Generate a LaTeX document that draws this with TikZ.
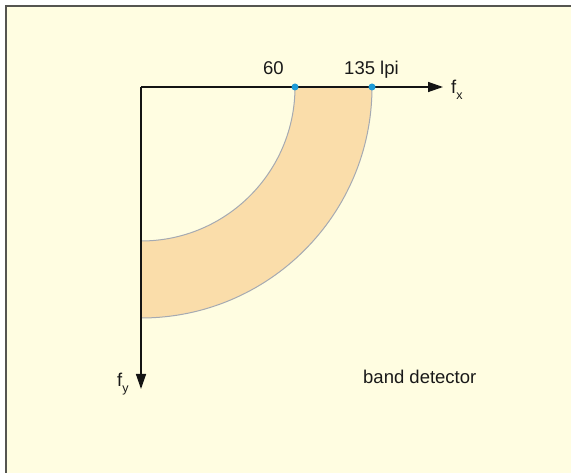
\documentclass[tikz,border=0pt]{standalone}
\usepackage{fontspec}
\setmainfont{Liberation Sans}
\usetikzlibrary{arrows.meta}
\definecolor{bgcream}{RGB}{255,253,225}
\definecolor{bandfill}{RGB}{250,221,170}
\definecolor{arcgray}{RGB}{165,170,178}
\definecolor{dotblue}{RGB}{30,155,215}
\definecolor{framegray}{RGB}{85,85,80}
\definecolor{axisblack}{RGB}{20,20,20}
\newcommand{\subtxt}[1]{\raisebox{-0.28em}{\fontsize{12.5}{13}\selectfont #1}}
\tikzset{
  axisline/.style={draw=axisblack, line width=1.4pt, -{Triangle[length=15pt,width=10pt]}},
  arcline/.style={draw=arcgray, line width=1pt},
  dotnode/.style={circle, fill=dotblue, inner sep=0pt, minimum size=7pt},
  lbl/.style={font=\fontsize{18.5}{22}\selectfont, inner sep=0pt, text=black!90}
}
\begin{document}
\begin{tikzpicture}[x=1pt,y=-1pt]
\useasboundingbox (0,0) rectangle (571,473);
\fill[white] (0,0) rectangle (571,473);
\fill[bgcream] (5,5) rectangle (571,473);
\draw[framegray, line width=1.6pt] (5.8,473) -- (5.8,5.8) -- (571,5.8);
% band
\fill[bandfill] (295,87) arc[start angle=0, end angle=90, radius=154] -- (141,318) arc[start angle=90, end angle=0, radius=231] -- cycle;
\draw[arcline] (295,87) arc[start angle=0, end angle=90, radius=154];
\draw[arcline] (372,87) arc[start angle=0, end angle=90, radius=231];
\coordinate (O) at (141,87);
\coordinate (xend) at (443,87);
\coordinate (yend) at (141,389);
\draw[axisline] (O) -- (xend);
\draw[axisline] (O) -- (yend);
\node[dotnode] (d60) at (295,87) {};
\node[dotnode] (d135) at (372,87) {};
\node[lbl, anchor=base] (l60) at (273.5,75) {60};
\node[lbl, anchor=base] (l135) at (371.5,75) {135 lpi};
\node[lbl, anchor=base west] (fx) at (451,94) {f\subtxt{x}};
\node[lbl, anchor=base west] (fy) at (117,387) {f\subtxt{y}};
\node[lbl, anchor=base west] (bd) at (363,384) {band detector};
\end{tikzpicture}
\end{document}
